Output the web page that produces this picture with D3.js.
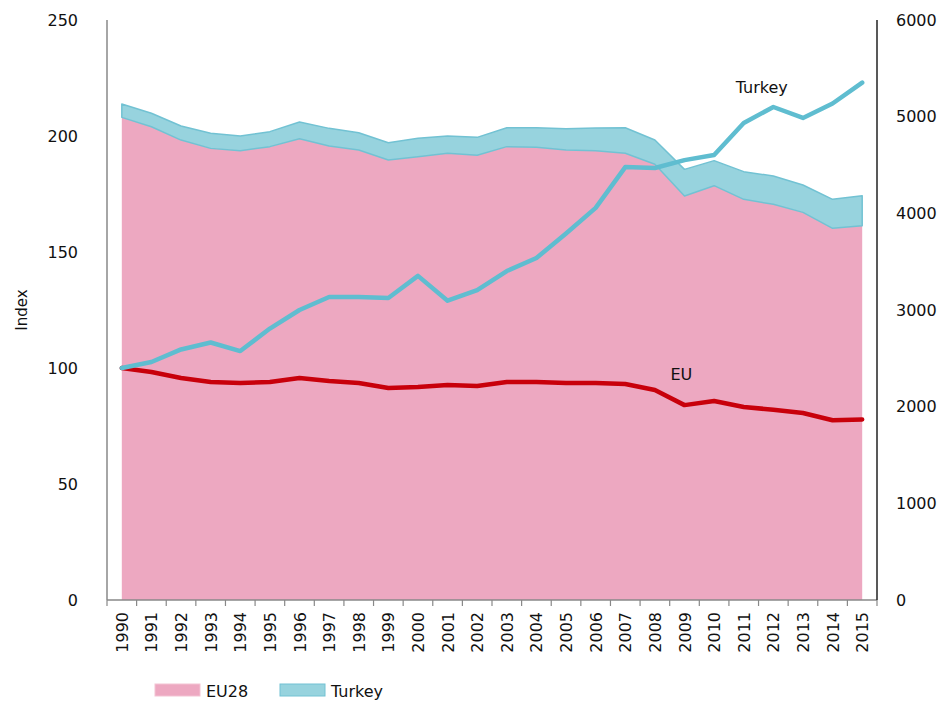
<!DOCTYPE html>
<html>
<head>
<meta charset="utf-8">
<script src="https://cdn.jsdelivr.net/npm/d3@7"></script>
<style>
  body { margin: 0; background: #fff; }
  svg text { font-family: "DejaVu Sans", sans-serif; fill: #111; }
</style>
</head>
<body>
<div id="chart"></div>
<script>
// years on the x axis
const years = d3.range(1990, 2016).map(String);

// emissions (right axis), stacked: EU28 at the bottom, Turkey on top
const eu28Emissions = [4993, 4896, 4758, 4672, 4648, 4690, 4772, 4697, 4655, 4552, 4586, 4621, 4600,
    4690, 4683, 4655, 4648, 4621, 4507, 4179, 4286, 4145, 4093, 4010, 3845, 3872];
const turkeyEmissions = [138, 139, 145, 156, 152, 155, 173, 182, 179, 179, 190, 179, 186,
    196, 203, 221, 235, 265, 252, 276, 259, 286, 293, 283, 300, 311];

// index lines (left axis), 1990 = 100
const euIndex = [100, 98.3, 95.7, 94, 93.5, 94, 95.7, 94.4, 93.5, 91.4, 91.8, 92.7, 92.2,
    94, 94, 93.5, 93.5, 93.1, 90.5, 84, 85.8, 83.2, 82, 80.6, 77.5, 77.8];
const turkeyIndex = [100, 102.6, 108, 111, 107.3, 117, 125, 130.6, 130.6, 130.2, 139.7, 129, 133.6,
    141.8, 147.4, 158, 169, 186.6, 186.2, 189.6, 191.8, 205.6, 212.5, 207.8, 214, 223];

const leftTicks = [0, 50, 100, 150, 200, 250];
const rightTicks = [0, 1000, 2000, 3000, 4000, 5000, 6000];

const width = 949;
const height = 704;
const margin = { top: 20, right: 72, bottom: 104, left: 107 };
const innerW = width - margin.left - margin.right;
const innerH = height - margin.top - margin.bottom;

const svg = d3.select('#chart').append('svg')
    .attr('width', width)
    .attr('height', height);

const g = svg.append('g')
    .attr('transform', 'translate(' + margin.left + ',' + margin.top + ')');

const x = d3.scaleBand().domain(years).range([0, innerW]);
const cx = d => x(d) + x.bandwidth() / 2;
const yLeft = d3.scaleLinear().domain([0, 250]).range([innerH, 0]);
const yRight = d3.scaleLinear().domain([0, 6000]).range([innerH, 0]);

// stacked areas
const rows = years.map((yr, i) => ({ year: yr, eu28: eu28Emissions[i], turkey: turkeyEmissions[i] }));
const stack = d3.stack().keys(['eu28', 'turkey'])(rows);
const area = d3.area()
    .x(d => cx(d.data.year))
    .y0(d => yRight(d[0]))
    .y1(d => yRight(d[1]));

g.append('path')
    .datum(stack[0])
    .attr('fill', '#eda8c1')
    .attr('d', area);

g.append('path')
    .datum(stack[1])
    .attr('fill', '#97d3de')
    .attr('stroke', '#72c2d3')
    .attr('stroke-width', 1.5)
    .attr('stroke-linejoin', 'round')
    .attr('d', area);

// index lines
const line = d3.line().x((d, i) => cx(years[i])).y(d => yLeft(d));

g.append('path')
    .datum(euIndex)
    .attr('fill', 'none')
    .attr('stroke', '#c8000b')
    .attr('stroke-width', 4.5)
    .attr('stroke-linejoin', 'round')
    .attr('stroke-linecap', 'round')
    .attr('d', line);

g.append('path')
    .datum(turkeyIndex)
    .attr('fill', 'none')
    .attr('stroke', '#5fbdd0')
    .attr('stroke-width', 4.5)
    .attr('stroke-linejoin', 'round')
    .attr('stroke-linecap', 'round')
    .attr('d', line);

// line labels
g.append('text')
    .attr('x', cx('2011') - 8)
    .attr('y', yLeft(212.5) - 14)
    .attr('font-size', 16)
    .text('Turkey');

g.append('text')
    .attr('x', cx('2009') - 14)
    .attr('y', yLeft(84) - 25)
    .attr('font-size', 16)
    .text('EU');

// bottom axis
const xAxis = g.append('g')
    .attr('transform', 'translate(0,' + innerH + ')');
xAxis.append('line')
    .attr('x1', 0).attr('x2', innerW)
    .attr('stroke', '#888').attr('stroke-width', 1.5);
xAxis.selectAll('.tick')
    .data(years.concat(['end']))
    .enter()
    .append('line')
    .attr('x1', (d, i) => i < years.length ? x(d) : innerW)
    .attr('x2', (d, i) => i < years.length ? x(d) : innerW)
    .attr('y1', 0).attr('y2', 6)
    .attr('stroke', '#888').attr('stroke-width', 1.2);
xAxis.selectAll('.year')
    .data(years)
    .enter()
    .append('text')
    .attr('transform', d => 'translate(' + (cx(d) + 6) + ',12) rotate(-90)')
    .attr('text-anchor', 'end')
    .attr('font-size', 16)
    .text(d => d);

// left axis
g.append('line')
    .attr('x1', 0).attr('x2', 0).attr('y1', 0).attr('y2', innerH)
    .attr('stroke', '#888').attr('stroke-width', 1.5);
g.selectAll('.ltick')
    .data(leftTicks)
    .enter()
    .append('text')
    .attr('x', -29)
    .attr('y', d => yLeft(d))
    .attr('dy', '0.35em')
    .attr('text-anchor', 'end')
    .attr('font-size', 16)
    .text(d => d);

g.append('text')
    .attr('transform', 'translate(-80,' + (innerH / 2) + ') rotate(-90)')
    .attr('text-anchor', 'middle')
    .attr('font-size', 15)
    .text('Index');

// right axis
g.append('line')
    .attr('x1', innerW).attr('x2', innerW).attr('y1', 0).attr('y2', innerH)
    .attr('stroke', '#222').attr('stroke-width', 1.5);
g.selectAll('.rtick')
    .data(rightTicks)
    .enter()
    .append('text')
    .attr('x', innerW + 19)
    .attr('y', d => yRight(d))
    .attr('dy', '0.35em')
    .attr('font-size', 16)
    .text(d => d);

// legend
const legend = svg.append('g').attr('transform', 'translate(155,684)');
const legendItems = [
    { label: 'EU28', fill: '#eda8c1', stroke: '#f3c3d3' },
    { label: 'Turkey', fill: '#97d3de', stroke: '#72c2d3' }
];
legendItems.forEach((item, i) => {
    const lg = legend.append('g').attr('transform', 'translate(' + (i * 125) + ',0)');
    lg.append('rect')
        .attr('width', 45).attr('height', 12)
        .attr('fill', item.fill)
        .attr('stroke', item.stroke);
    lg.append('text')
        .attr('x', 51).attr('y', 13)
        .attr('font-size', 16)
        .text(item.label);
});
</script>
</body>
</html>
